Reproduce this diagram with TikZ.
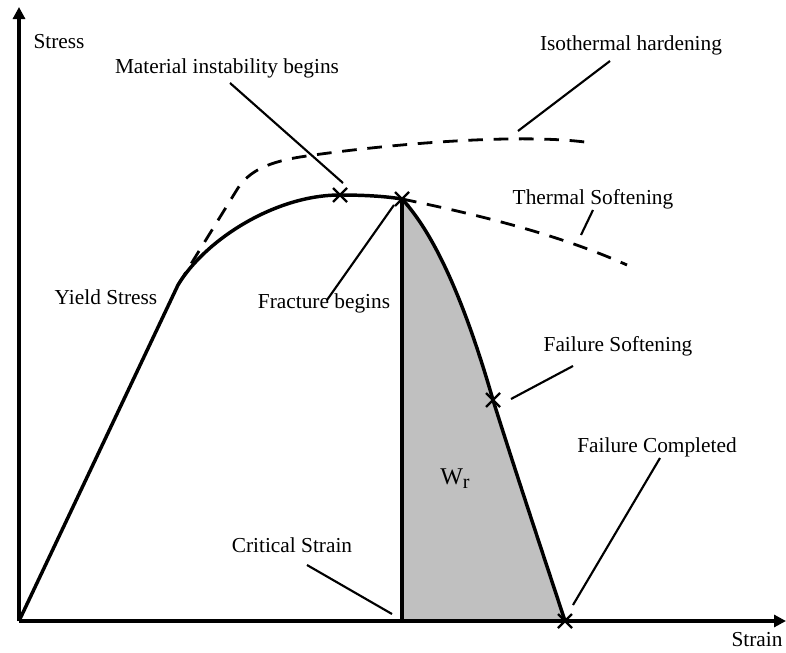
\documentclass[tikz,border=0pt]{standalone}
\usepackage{fontspec}
\setmainfont{Liberation Serif}
\usetikzlibrary{arrows.meta,calc}
\definecolor{areagrey}{RGB}{192,192,192}
\begin{document}
\begin{tikzpicture}[x=0.75pt,y=-0.75pt,
  axisline/.style={line width=2.8pt,-{Triangle[length=9pt,width=9pt]}},
  curve/.style={line width=2.6pt},
  dashcurve/.style={line width=2.1pt,dash pattern=on 11pt off 8pt},
  leader/.style={line width=1.6pt},
  lbl/.style={font=\fontsize{16}{19}\selectfont,inner sep=0pt},
  xmark/.style={line width=1.7pt}]
\useasboundingbox (0,0) rectangle (786,653);
% shaded area
\fill[areagrey] (402,199) .. controls (440,240) and (470,320) .. (493,400)
  .. controls (515,470) and (540,545) .. (565,621) -- (402,621) -- cycle;
% key points
\coordinate (O) at (19,621);
\coordinate (ytop) at (19,7);
\coordinate (xend) at (786,621);
\coordinate (yield) at (178,285);
\coordinate (mi) at (340,195);
\coordinate (fb) at (402,199);
\coordinate (fs) at (493,400);
\coordinate (fc) at (565,621);
\coordinate (cs) at (402,621);
% isothermal hardening (dashed)
\draw[dashcurve] (yield) -- (238,188) .. controls (250,170) and (270,162) .. (300,157)
  .. controls (380,145) and (520,132) .. (592,143);
% thermal softening (dashed)
\draw[dashcurve] (fb) .. controls (480,215) and (560,235) .. (627,265);
% axes
\draw[axisline] (O) -- (ytop);
\draw[axisline] (O) -- (xend);
% stress-strain curve
\draw[curve] (O) -- (yield) .. controls (205,240) and (275,195) .. (mi)
  .. controls (370,195) and (390,197) .. (fb);
\draw[curve] (fb) .. controls (440,240) and (470,320) .. (fs)
  .. controls (515,470) and (540,545) .. (fc);
\draw[curve] (fb) -- (cs);
% markers
\foreach \p in {mi,fb,fs,fc}{
  \draw[xmark] ($(\p)+(-7,-7)$) -- ($(\p)+(7,7)$);
  \draw[xmark] ($(\p)+(-7,7)$) -- ($(\p)+(7,-7)$);
}
% labels
\node[lbl] (stress) at (59,42) {Stress};
\node[lbl] (strain) at (757,640) {Strain};
\node[lbl] (matlbl) at (227,68) {Material instability begins};
\node[lbl] (isolbl) at (631,45) {Isothermal hardening};
\node[lbl] (thslbl) at (593,199) {Thermal Softening};
\node[lbl] (yldlbl) at (106,297) {Yield Stress};
\node[lbl] (frblbl) at (324,303) {Fracture begins};
\node[lbl] (fsflbl) at (618,346) {Failure Softening};
\node[lbl] (fcplbl) at (657,447) {Failure Completed};
\node[lbl] (crslbl) at (292,545) {Critical Strain};
\node[lbl] (wr) at (455,479) {{\fontsize{18}{20}\selectfont W}\raisebox{-3pt}{\fontsize{15}{17}\selectfont r}};
% leaders
\coordinate (l1a) at (230,83);  \coordinate (l1b) at (343,183);
\coordinate (l2a) at (610,61);  \coordinate (l2b) at (518,131);
\coordinate (l3a) at (593,210); \coordinate (l3b) at (581,235);
\coordinate (l4a) at (327,300); \coordinate (l4b) at (394,205);
\coordinate (l5a) at (573,366); \coordinate (l5b) at (511,399);
\coordinate (l6a) at (660,458); \coordinate (l6b) at (573,605);
\coordinate (l7a) at (307,565); \coordinate (l7b) at (392,614);
\draw[leader] (l1a) -- (l1b);
\draw[leader] (l2a) -- (l2b);
\draw[leader] (l3a) -- (l3b);
\draw[leader] (l4a) -- (l4b);
\draw[leader] (l5a) -- (l5b);
\draw[leader] (l6a) -- (l6b);
\draw[leader] (l7a) -- (l7b);
\end{tikzpicture}
\end{document}
